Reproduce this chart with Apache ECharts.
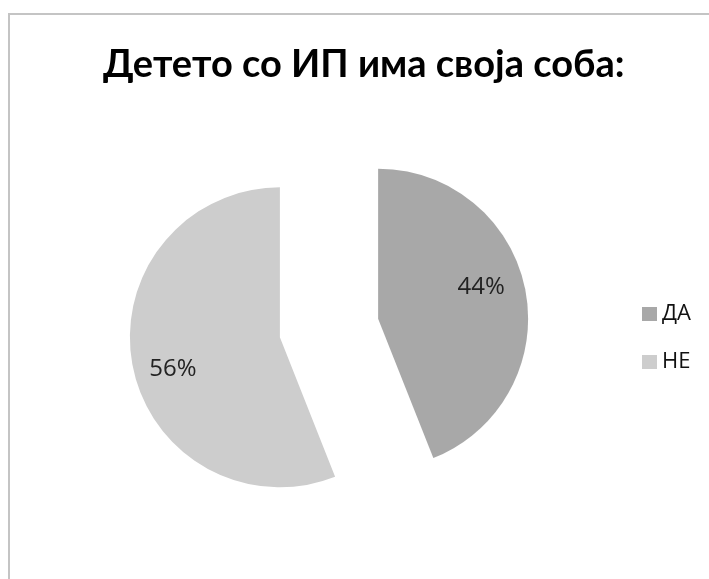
<!DOCTYPE html>
<html>
<head>
<meta charset="utf-8">
<script src="https://cdn.jsdelivr.net/npm/echarts@6/dist/echarts.min.js"></script>
<style>
  html, body { margin: 0; padding: 0; background: #fff; }
  #chart { width: 709px; height: 579px; }
</style>
</head>
<body>
<div id="chart"></div>
<script>
// Survey answers and their shares (percent)
const titleText = 'Детето со ИП има своја соба:';
const categories = ['ДА', 'НЕ'];
const values = [44, 56];
const colors = ['#a8a8a8', '#cdcdcd'];

const chart = echarts.init(document.getElementById('chart'), null, { renderer: 'canvas' });

const center = [329, 328];
const outerR = 150;
// small nudges for the percentage labels (best-fit placement)
const labelNudges = [[-8, -10], [4, 11]];

const sliceData = categories.map((name, i) => ({
  name: name,
  value: values[i],
  selected: true,
  itemStyle: { color: colors[i] }
}));

// Transparent ring sharing the slices' geometry, used only to place the
// percentage labels further out than the default inside position.
const labelData = categories.map((name, i) => ({
  name: name,
  value: values[i],
  selected: true,
  itemStyle: { color: 'rgba(0,0,0,0)' }
}));

chart.setOption({
  backgroundColor: '#ffffff',
  animation: false,
  title: {
    text: titleText,
    left: 98,
    top: 41,
    textStyle: {
      fontFamily: 'Lato',
      fontWeight: 'bold',
      fontSize: 38,
      color: '#000000'
    }
  },
  legend: {
    orient: 'vertical',
    left: 637,
    top: 298,
    itemWidth: 15,
    itemHeight: 14,
    itemGap: 26,
    icon: 'rect',
    data: categories,
    textStyle: {
      fontFamily: 'Open Sans',
      fontSize: 22,
      color: '#111111'
    }
  },
  graphic: [
    {
      type: 'line',
      shape: { x1: 8, y1: 14, x2: 709, y2: 14 },
      style: { stroke: '#c4c4c4', lineWidth: 2 },
      silent: true
    },
    {
      type: 'line',
      shape: { x1: 9, y1: 13, x2: 9, y2: 579 },
      style: { stroke: '#c4c4c4', lineWidth: 2 },
      silent: true
    }
  ],
  series: [
    {
      type: 'pie',
      center: center,
      radius: [0, outerR],
      startAngle: 90,
      clockwise: true,
      selectedMode: 'multiple',
      selectedOffset: 50,
      avoidLabelOverlap: false,
      label: { show: false },
      labelLine: { show: false },
      emphasis: { disabled: true },
      silent: true,
      data: sliceData
    },
    {
      type: 'pie',
      center: center,
      radius: [70, outerR],
      startAngle: 90,
      clockwise: true,
      selectedMode: 'multiple',
      selectedOffset: 50,
      avoidLabelOverlap: false,
      silent: true,
      emphasis: { disabled: true },
      label: {
        show: true,
        position: 'inside',
        formatter: '{d}%',
        fontFamily: 'Open Sans',
        fontSize: 24,
        color: '#222222'
      },
      labelLayout: function (params) {
        const n = labelNudges[params.dataIndex] || [0, 0];
        return { dx: n[0], dy: n[1] };
      },
      labelLine: { show: false },
      data: labelData
    }
  ]
});
</script>
</body>
</html>
